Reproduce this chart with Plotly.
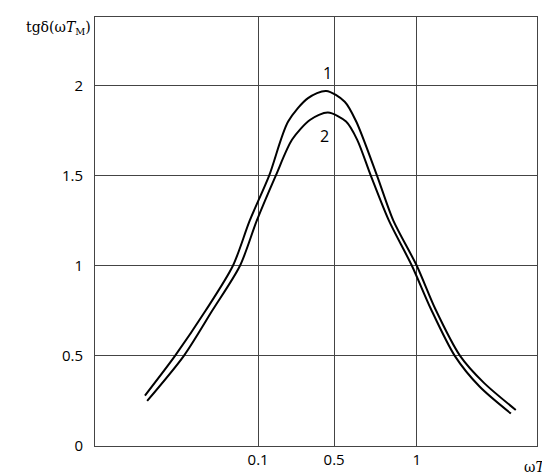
import plotly.graph_objects as go

tick_pos = [36.9, 54.1, 72.8]
tick_text = ["0.1", "0.5", "1"]
y_ticks = [0, 0.5, 1, 1.5, 2]

x1 = [11.3, 18.1, 25.0, 31.2, 35.0, 39.4, 43.7, 48.2, 52.3, 56.5, 59.1, 63.8, 67.5, 72.8, 77.0, 82.6, 88.0, 95.2]
y1 = [0.28, 0.5, 0.75, 1.0, 1.25, 1.5, 1.8, 1.93, 1.97, 1.91, 1.8, 1.5, 1.25, 1.0, 0.76, 0.5, 0.35, 0.20]
x2 = [11.8, 20.1, 26.5, 32.8, 36.6, 40.9, 44.6, 48.7, 52.7, 56.8, 59.3, 62.4, 66.5, 71.7, 76.0, 81.4, 87.0, 94.1]
y2 = [0.25, 0.5, 0.75, 1.0, 1.25, 1.5, 1.7, 1.81, 1.85, 1.8, 1.7, 1.5, 1.25, 1.0, 0.76, 0.5, 0.33, 0.18]

fig = go.Figure()
for xs, ys in [(x1, y1), (x2, y2)]:
    fig.add_trace(go.Scatter(x=xs, y=ys, mode="lines", line=dict(color="black", width=2, shape="spline", smoothing=0.8), showlegend=False))

fig.update_layout(
    width=550, height=474, margin=dict(l=87, r=21, t=9, b=36),
    plot_bgcolor="white", paper_bgcolor="white",
    font=dict(family="Open Sans", size=15, color="black"),
    xaxis=dict(range=[0, 100], tickvals=tick_pos, ticktext=tick_text, showgrid=True, gridcolor="#444", gridwidth=1,
               showline=True, linecolor="#444", mirror=True, zeroline=False, ticks="", automargin=False),
    yaxis=dict(range=[0, 2.38], tickvals=y_ticks, ticktext=["0", "0.5", "1", "1.5", "2"], showgrid=True, gridcolor="#444",
               showline=True, linecolor="#444", mirror=True, zeroline=False, ticks="", ticklabelstandoff=8, automargin=False),
    annotations=[
        dict(text="tgδ(ω<i>T</i><sub>M</sub>)", xref="paper", yref="paper", x=-0.005, y=0.975, xanchor="right", yanchor="middle", showarrow=False, font=dict(size=14, family="DejaVu Serif")),
        dict(text="ω<i>T</i><sub>M</sub>", xref="paper", yref="paper", x=1.045, y=-0.025, xanchor="right", yanchor="top", showarrow=False, font=dict(size=14, family="DejaVu Serif")),
        dict(text="1", x=52.6, y=2.07, showarrow=False, font=dict(size=16)),
        dict(text="2", x=51.9, y=1.72, showarrow=False, font=dict(size=16)),
    ],
)
fig.write_html("out.html")
